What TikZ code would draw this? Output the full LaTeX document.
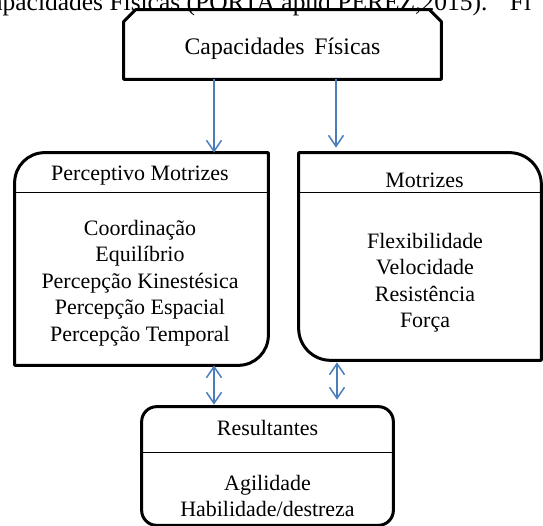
\documentclass[tikz,border=0pt]{standalone}
\usepackage{fontspec}
\setmainfont{Liberation Serif}
\usetikzlibrary{arrows.meta}

% Changing color 74 126 187
\definecolor{r74g126b187}{rgb}{0.290196,0.494118,0.733333}

\begin{document}
\begin{tikzpicture}[
    caixa/.style={rectangle, inner sep=0pt},
    borda/.style={line width=0.060000cm, line join=round},
    divisa/.style={line width=0.030000cm},
    seta/.style={r74g126b187, line width=0.030000cm, -{Straight Barb[length=0.22cm,width=0.30cm]}},
    setadupla/.style={r74g126b187, line width=0.030000cm, {Straight Barb[length=0.22cm,width=0.30cm]}-{Straight Barb[length=0.22cm,width=0.30cm]}},
    texto/.style={inner sep=0pt, align=center, font=\fontsize{12.5}{15}\selectfont}
  ]
  \useasboundingbox (0,0) rectangle (10.860000,10.520000);
  \clip (0,0) rectangle (10.860000,10.520000);

  % Marking caption (cut at the top)
  \node [texto, anchor=base west, font=\fontsize{14.5}{17}\selectfont] (legenda) at (-0.520000,10.300000) {Capacidades Físicas (PORTA apud PEREZ,2015).\hspace{0.45cm}Fi};

  % Placing empty frames
  \node [caixa, minimum width=6.340000cm, minimum height=1.380000cm] (cap) at (5.650000,9.630000) {};
  \node [caixa, minimum width=5.060000cm, minimum height=4.240000cm] (perc) at (2.830000,5.340000) {};
  \node [caixa, minimum width=4.840000cm, minimum height=4.140000cm] (mot) at (8.400000,5.390000) {};
  \node [caixa, minimum width=5.020000cm, minimum height=2.360000cm] (res) at (5.350000,1.200000) {};

  % Drawing box cap (cut corners)
  \draw [borda] (cap.south west) -- ([yshift=-0.24cm]cap.north west) -- ([xshift=0.24cm]cap.north west)
    -- ([xshift=-0.24cm]cap.north east) -- ([yshift=-0.24cm]cap.north east) -- (cap.south east) -- cycle;

  % Drawing box perc
  \draw [borda] ([yshift=-0.6cm]perc.north west) arc (180:90:0.6cm) -- (perc.north east)
    -- ([yshift=0.6cm]perc.south east) arc (0:-90:0.6cm) -- (perc.south west) -- cycle;
  \draw [divisa] ([yshift=-0.8cm]perc.north west) -- ([yshift=-0.8cm]perc.north east);

  % Drawing box mot
  \draw [borda] (mot.north west) -- ([xshift=-0.64cm]mot.north east) arc (90:0:0.64cm)
    -- (mot.south east) -- ([xshift=0.64cm]mot.south west) arc (270:180:0.64cm) -- cycle;
  \draw [divisa] ([yshift=-0.8cm]mot.north west) -- ([yshift=-0.8cm]mot.north east);

  % Drawing box res
  \draw [borda, rounded corners=0.3cm] (res.south west) rectangle (res.north east);
  \draw [divisa] ([yshift=-0.92cm]res.north west) -- ([yshift=-0.92cm]res.north east);

  % Marking texts
  \node [texto, anchor=base, font=\fontsize{13.5}{16}\selectfont] (captxt) at (5.650000,9.420000) {Capacidades\, Físicas};
  \node [texto, anchor=base] (perctit) at (2.800000,6.900000) {Perceptivo Motrizes};
  \node [texto, anchor=north] (perclist) at (2.800000,6.120000) {Coordinação\\Equilíbrio\\Percepção Kinestésica\\Percepção Espacial\\Percepção Temporal};
  \node [texto, anchor=base] (mottit) at (8.490000,6.760000) {Motrizes};
  \node [texto, anchor=north] (motlist) at (8.500000,5.860000) {Flexibilidade\\Velocidade\\Resistência\\Força};
  \node [texto, anchor=base] (restit) at (5.350000,1.800000) {Resultantes};
  \node [texto, anchor=north] (reslist) at (5.350000,1.020000) {Agilidade\\Habilidade/destreza};

  % Drawing arrows
  \coordinate (xa) at (4.280000,0);
  \coordinate (xb) at (6.720000,0);
  \coordinate (xc) at (6.740000,0);
  \draw [seta] (xa |- cap.south) -- (xa |- perc.north);
  \draw [seta] (xb |- cap.south) -- ([yshift=0.10cm]xb |- mot.north);
  \draw [setadupla] (xa |- perc.south) -- ([yshift=0.04cm]xa |- res.north);
  \draw [setadupla] ([yshift=-0.04cm]xc |- mot.south) -- ([yshift=0.14cm]xc |- res.north);
\end{tikzpicture}
\end{document}
